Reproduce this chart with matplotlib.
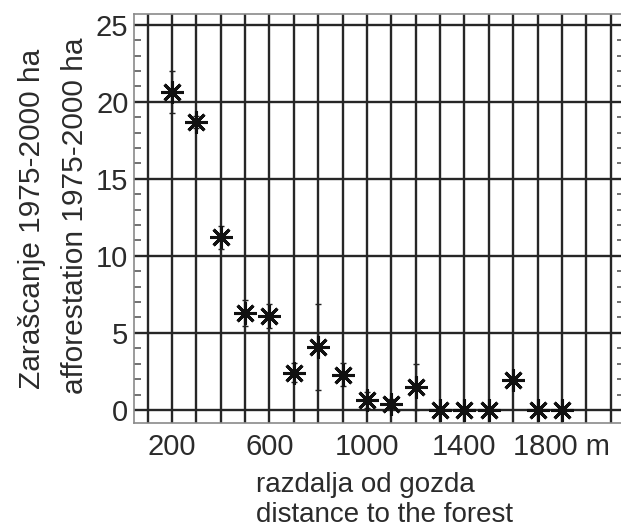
import matplotlib
matplotlib.use("Agg")
import matplotlib.pyplot as plt
import numpy as np

plt.rcParams['font.family'] = ['Liberation Sans', 'DejaVu Sans']

distance = [200, 300, 400, 500, 600, 700, 800, 900, 1000, 1100, 1200,
            1300, 1400, 1500, 1600, 1700, 1800]
afforestation = [20.65, 18.7, 11.2, 6.28, 6.1, 2.42, 4.1, 2.27, 0.65, 0.39, 1.51,
                 0.0, 0.0, 0.0, 1.95, 0.0, 0.0]
error = [1.35, 0.4, 0.75, 0.85, 0.8, 0.6, 2.8, 0.75, 0.5, 0.3, 1.5,
         0.0, 0.0, 0.0, 0.2, 0.0, 0.0]
xtick_vals = [200, 600, 1000, 1400, 1800]
xtick_labels = ["200", "600", "1000", "1400", "1800 m"]
ytick_vals = [0, 5, 10, 15, 20, 25]

W, H = 621, 527
fig = plt.figure(figsize=(W / 100, H / 100), dpi=100)
ax = fig.add_axes([134 / W, 1 - 423 / H, (624 - 134) / W, (423 - 14) / H])

txt = '#2b2b2b'
gridc = '#262626'

ax.set_xlim(44, 2055)
ax.set_ylim(-0.85, 25.7)

ax.set_xticks(xtick_vals)
ax.set_xticklabels(xtick_labels)
ax.set_xticks(np.arange(100, 2001, 100), minor=True)
ax.set_yticks(ytick_vals)
ax.set_yticks(np.arange(0, 26, 1), minor=True)

ax.grid(True, axis='x', which='both', color=gridc, linewidth=1.7, zorder=1)
ax.grid(True, axis='y', which='major', color=gridc, linewidth=1.7, zorder=1)
ax.set_axisbelow(True)

ax.tick_params(axis='x', which='both', length=0, pad=7, labelsize=21, labelcolor=txt)
ax.tick_params(axis='y', which='major', length=0, pad=4, labelsize=21, labelcolor=txt)
ax.tick_params(axis='y', which='minor', direction='in', length=5, width=1.3,
               color='#666666', left=True, right=True)

for s in ax.spines.values():
    s.set_color('#8a8a8a')
    s.set_linewidth(1.2)

ax.errorbar(distance, afforestation, yerr=error, fmt='none', ecolor='#222222',
            elinewidth=1.0, capsize=2.5, capthick=1.0, zorder=3)
ax.plot(distance, afforestation, linestyle='none', marker=(8, 2, 0),
        markersize=16, markeredgewidth=2.2, color='#111111', zorder=4)

fig.text(32 / W, 1 - 219 / H, "Zarašcanje 1975-2000 ha", rotation=90,
         ha='center', va='center', fontsize=21.5, color=txt)
fig.text(75 / W, 1 - 216 / H, "afforestation 1975-2000 ha", rotation=90,
         ha='center', va='center', fontsize=21.5, color=txt)
fig.text(256 / W, 1 - 492 / H, "razdalja od gozda", ha='left', va='baseline',
         fontsize=20, color=txt)
fig.text(256 / W, 1 - 522 / H, "distance to the forest", ha='left', va='baseline',
         fontsize=20, color=txt)

fig.savefig("out.png", dpi=100)
